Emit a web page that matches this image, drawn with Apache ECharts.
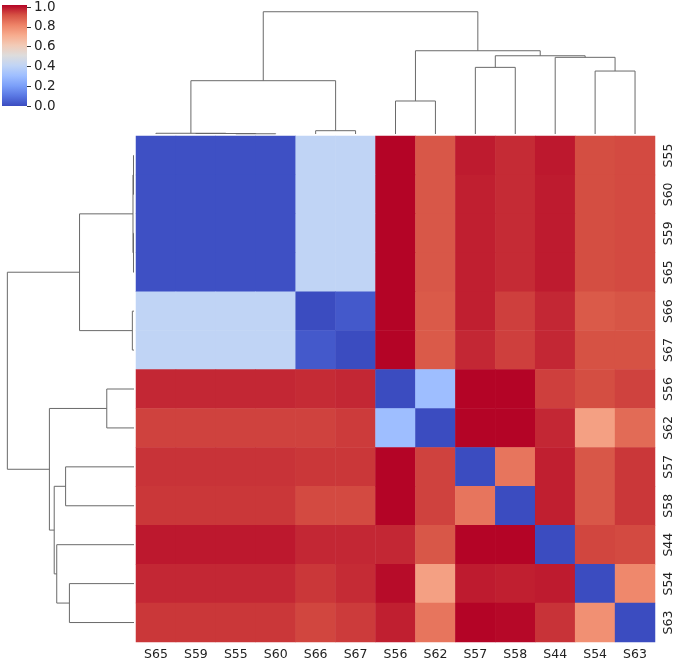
<!DOCTYPE html>
<html><head><meta charset="utf-8">
<script src="https://cdn.jsdelivr.net/npm/echarts@6/dist/echarts.min.js"></script>
<style>html,body{margin:0;padding:0;background:#fff}#c{width:675px;height:661px}</style>
</head><body><div id="c"></div>
<script>
// Column order (after clustering)
const colLabels = ['S65','S59','S55','S60','S66','S67','S56','S62','S57','S58','S44','S54','S63'];
// Row order (after clustering)
const rowLabels = ['S55','S60','S59','S65','S66','S67','S56','S62','S57','S58','S44','S54','S63'];

// Matrix values, one array per row (columns in colLabels order)
const rowS55 = [0.01,0.01,0.01,0.01, 0.40,0.40, 1.00,0.89, 0.97,0.95,0.975, 0.905,0.91];
const rowS60 = [0.01,0.01,0.01,0.01, 0.40,0.40, 1.00,0.89, 0.965,0.95,0.97, 0.905,0.91];
const rowS59 = [0.01,0.01,0.01,0.01, 0.40,0.40, 1.00,0.89, 0.965,0.95,0.97, 0.905,0.91];
const rowS65 = [0.01,0.01,0.01,0.01, 0.40,0.40, 1.00,0.89, 0.965,0.95,0.97, 0.905,0.91];
const rowS66 = [0.40,0.40,0.40,0.40, 0.00,0.03, 1.00,0.885, 0.965,0.925,0.955, 0.885,0.895];
const rowS67 = [0.40,0.40,0.40,0.40, 0.03,0.00, 1.00,0.885, 0.955,0.925,0.955, 0.90,0.90];
const rowS56 = [0.955,0.955,0.955,0.955, 0.95,0.955, 0.00,0.30, 1.00,1.00,0.925, 0.905,0.92];
const rowS62 = [0.92,0.92,0.92,0.92, 0.92,0.93, 0.30,0.00, 1.00,1.00,0.955, 0.73,0.85];
const rowS57 = [0.94,0.94,0.94,0.94, 0.935,0.935, 1.00,0.92, 0.00,0.83,0.965, 0.89,0.935];
const rowS58 = [0.935,0.935,0.935,0.935, 0.91,0.91, 1.00,0.92, 0.83,0.00,0.965, 0.89,0.935];
const rowS44 = [0.975,0.975,0.975,0.975, 0.955,0.955, 0.955,0.89, 1.00,1.00,0.00, 0.915,0.91];
const rowS54 = [0.955,0.955,0.955,0.955, 0.935,0.95, 0.99,0.73, 0.97,0.965,0.97, 0.00,0.79];
const rowS63 = [0.935,0.935,0.935,0.935, 0.915,0.93, 0.965,0.83, 1.00,0.995,0.94, 0.77,0.00];
const matrixRows = [rowS55,rowS60,rowS59,rowS65,rowS66,rowS67,rowS56,rowS62,rowS57,rowS58,rowS44,rowS54,rowS63];

// Linkages (scipy style: [childA, childB, height]; ids >= 13 are earlier merges)
const colLinkage = [[2,3,0.002],[1,13,0.004],[0,14,0.006],[4,5,0.027],[15,16,0.436],[6,7,0.27],[8,9,0.545],[11,12,0.515],[10,20,0.627],[19,21,0.64],[18,22,0.681],[17,23,1.0]];
const rowLinkage = [[0,1,0.004],[2,3,0.004],[13,14,0.008],[4,5,0.013],[15,16,0.43],[6,7,0.215],[8,9,0.54],[11,12,0.51],[10,20,0.61],[19,21,0.63],[18,22,0.668],[17,23,1.0]];

// colorbar ticks
const cbarTicks = [0.0,0.2,0.4,0.6,0.8,1.0];
const coolwarm = ['#3b4cc0','#5977e3','#7b9ff9','#9ebeff','#c0d4f5','#dddcdc','#f2cbb7','#f7ac8e','#ee8468','#d65244','#b40426'];

function dendroSegments(link, n){
  const pos = [], h = [];
  for (let i=0;i<n;i++){pos.push(i+0.5);h.push(0);}
  const segs = [];
  link.forEach(l=>{
    const a=l[0], b=l[1], H=l[2];
    segs.push([pos[a],h[a],pos[b],h[b],H]);
    pos.push((pos[a]+pos[b])/2); h.push(H);
  });
  return segs;
}
const heatData = [];
matrixRows.forEach((r,ri)=>r.forEach((v,ci)=>heatData.push([ci,ri,v])));

const colSegs = dendroSegments(colLinkage, colLabels.length);
const rowSegs = dendroSegments(rowLinkage, rowLabels.length);
const lineColor = '#6a6a6a';
const font = 'DejaVu Sans';

// colour bar gradient (top = 1.0, bottom = 0.0)
const cbarStops = coolwarm.map((c,i)=>({offset:1 - i/(coolwarm.length-1), color:c})).reverse();

const chart = echarts.init(document.getElementById('c'), null, {renderer:'canvas'});
chart.setOption({
  animation:false,
  backgroundColor:'#fff',
  grid:[
    {left:136, top:136, width:519, height:506},
    {left:136, top:0, width:519, height:134},
    {left:0, top:136, width:134, height:506},
    {left:2, top:5, width:25, height:101}
  ],
  graphic:[
    {type:'rect', left:2, top:5, shape:{width:25, height:101}, silent:true,
     style:{fill:new echarts.graphic.LinearGradient(0,0,0,1,cbarStops)}}
  ],
  xAxis:[
    {type:'category', gridIndex:0, data:colLabels, position:'bottom',
     axisLine:{show:false, onZero:false}, splitLine:{show:false},
     axisTick:{alignWithLabel:true, length:4, lineStyle:{color:'#333'}},
     axisLabel:{fontSize:12.5, color:'#222', margin:6, fontFamily:font}},
    {type:'value', gridIndex:1, min:0, max:13, show:false},
    {type:'value', gridIndex:2, min:0, max:1.058, inverse:true, show:false},
    {type:'value', gridIndex:3, min:0, max:1, show:false}
  ],
  yAxis:[
    {type:'category', gridIndex:0, data:rowLabels, inverse:true, position:'right',
     axisLine:{show:false, onZero:false}, splitLine:{show:false},
     axisTick:{alignWithLabel:true, length:4, lineStyle:{color:'#333'}},
     axisLabel:{fontSize:12.5, color:'#222', margin:7, rotate:90, fontFamily:font}},
    {type:'value', gridIndex:1, min:0, max:1.096, show:false},
    {type:'value', gridIndex:2, min:0, max:13, inverse:true, show:false},
    {type:'value', gridIndex:3, min:0, max:1, interval:0.2, position:'right',
     axisLine:{show:false, onZero:false}, splitLine:{show:false}, minorTick:{show:false},
     axisTick:{show:true, length:4, lineStyle:{color:'#333'}},
     axisLabel:{fontSize:13.5, color:'#222', margin:7, fontFamily:font,
       formatter:v=>cbarTicks.includes(Math.round(v*10)/10)?v.toFixed(1):''}}
  ],
  visualMap:{
    type:'continuous', min:0, max:1, seriesIndex:0, show:false,
    inRange:{color:coolwarm}
  },
  series:[
    {type:'heatmap', xAxisIndex:0, yAxisIndex:0, data:heatData, progressive:0,
     emphasis:{disabled:true}, itemStyle:{borderWidth:0}},
    {type:'custom', xAxisIndex:1, yAxisIndex:1, data:colSegs, silent:true,
     encode:{x:[0,2], y:[1,3,4]},
     renderItem:(p,api)=>{
       const x1=api.value(0),h1=api.value(1),x2=api.value(2),h2=api.value(3),H=api.value(4);
       const pts=[[x1,h1],[x1,H],[x2,H],[x2,h2]].map(q=>api.coord(q));
       return {type:'polyline', shape:{points:pts}, style:{stroke:lineColor, fill:null, lineWidth:1}};
     }},
    {type:'custom', xAxisIndex:2, yAxisIndex:2, data:rowSegs, silent:true,
     encode:{y:[0,2], x:[1,3,4]},
     renderItem:(p,api)=>{
       const x1=api.value(0),h1=api.value(1),x2=api.value(2),h2=api.value(3),H=api.value(4);
       const pts=[[h1,x1],[H,x1],[H,x2],[h2,x2]].map(q=>api.coord(q));
       return {type:'polyline', shape:{points:pts}, style:{stroke:lineColor, fill:null, lineWidth:1}};
     }}
  ]
});
</script></body></html>
